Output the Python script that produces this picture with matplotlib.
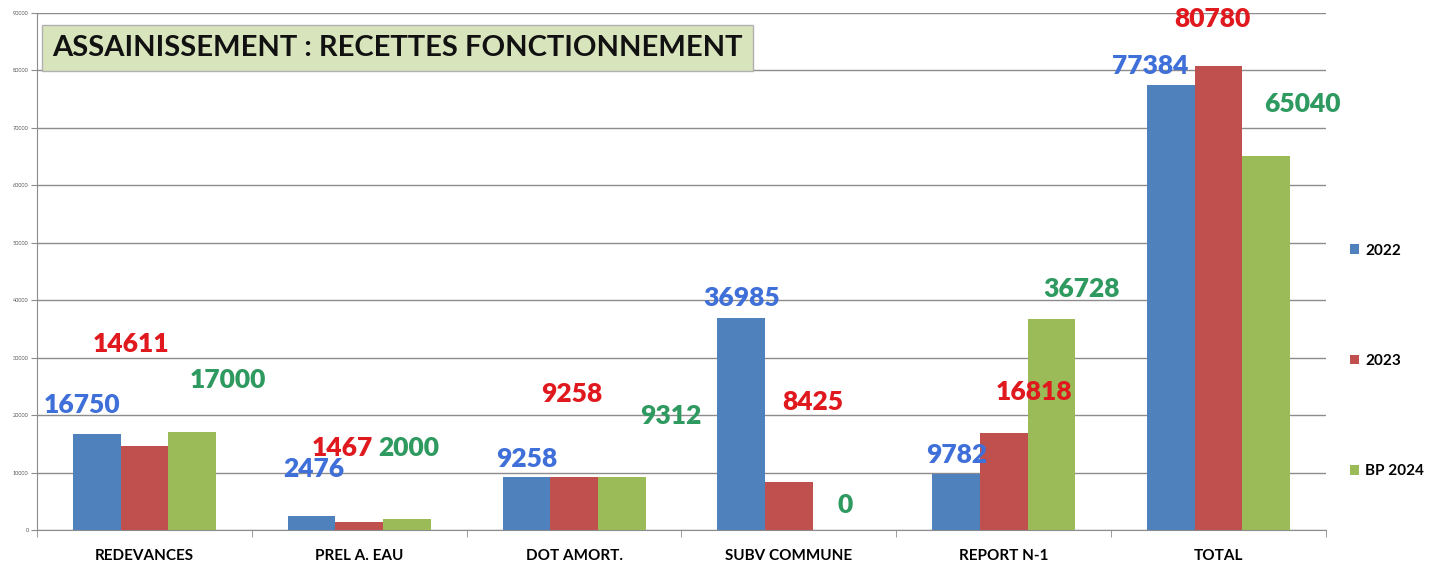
import matplotlib
matplotlib.use("Agg")
import matplotlib.pyplot as plt
import numpy as np

plt.rcParams["font.family"] = ["Lato", "DejaVu Sans"]

categories = ["REDEVANCES", "PREL A. EAU", "DOT AMORT.", "SUBV COMMUNE", "REPORT N-1", "TOTAL"]
series_names = ["2022", "2023", "BP 2024"]
v2022 = [16750, 2476, 9258, 36985, 9782, 77384]
v2023 = [14611, 1467, 9258, 8425, 16818, 80780]
v2024 = [17000, 2000, 9312, 0, 36728, 65040]

bar_colors = ["#4f81bd", "#c0504d", "#9bbb59"]
label_colors = ["#3f6fd8", "#e0191e", "#2f9a60"]

# hand-placed data label positions (x offset from category centre, y in data units)
lbl_dx = [[-0.29, -0.21, -0.22, -0.22, -0.22, -0.32],
          [-0.06, -0.08, -0.01, 0.11, 0.14, -0.03],
          [0.39, 0.23, 0.45, 0.26, 0.36, 0.39]]
lbl_y = [[21800, 10700, 12400, 40400, 13100, 80700],
         [32400, 14300, 23700, 22300, 24000, 88900],
         [26100, 14300, 19900, 4300, 42000, 74200]]

fig = plt.figure(figsize=(14.56, 5.64), dpi=100)
ax = fig.add_axes([37 / 1456, 1 - 530 / 564, (1326 - 37) / 1456, (530 - 13) / 564])

x = np.arange(len(categories))
w = 0.222
for k, vals in enumerate([v2022, v2023, v2024]):
    ax.bar(x + (k - 1) * w, vals, width=w, color=bar_colors[k], label=series_names[k], zorder=3)
    for i, v in enumerate(vals):
        ax.text(x[i] + lbl_dx[k][i], lbl_y[k][i], str(v), color=label_colors[k],
                fontsize=19, fontweight="heavy", ha="center", va="center", zorder=5)

ax.set_xlim(-0.5, len(categories) - 0.5)
ax.set_ylim(0, 90000)
ax.set_yticks(np.arange(0, 90001, 10000))
ax.set_yticklabels([str(t) for t in range(0, 90001, 10000)], fontsize=4, color="#555")
ax.yaxis.grid(True, color="#8c8c8c", lw=1.0, zorder=0)
ax.set_xticks(x)
ax.set_xticklabels(categories, fontsize=11, fontweight="bold")
ax.set_xticks(np.arange(-0.5, len(categories)), minor=True)
ax.tick_params(axis="x", which="major", length=0, pad=14)
ax.tick_params(axis="x", which="minor", length=5, color="#8c8c8c", direction="out")
ax.tick_params(axis="y", length=4, color="#8c8c8c", pad=2)
for s in ["top", "right"]:
    ax.spines[s].set_visible(False)
for s in ["left", "bottom"]:
    ax.spines[s].set_color("#8c8c8c")

ax.legend(loc="center left", bbox_to_anchor=(1.008, 0.327), frameon=False,
          prop={"size": 11, "weight": "bold"}, handlelength=0.6, handleheight=0.6,
          handletextpad=0.4, labelspacing=6.3)

fig.text(52 / 1456, 1 - 48 / 564, "ASSAINISSEMENT : RECETTES FONCTIONNEMENT",
         fontsize=21, fontweight="bold", color="#111", ha="left", va="center",
         bbox=dict(boxstyle="square,pad=0.35", fc="#d8e4bc", ec="#b0b0b0", lw=1))

fig.savefig("out.png", dpi=100)
